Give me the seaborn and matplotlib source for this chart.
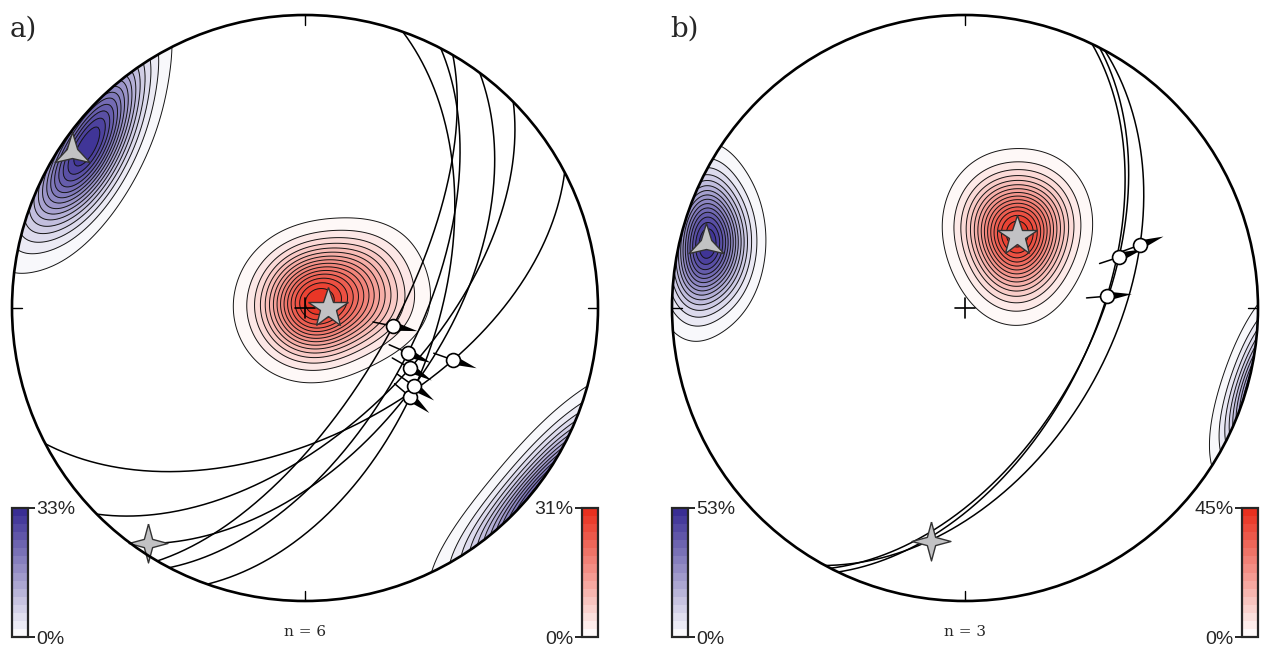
import numpy as np
import pandas as pd
import matplotlib
matplotlib.use("Agg")
import matplotlib.pyplot as plt
import seaborn as sns
from matplotlib.colors import LinearSegmentedColormap, ListedColormap, BoundaryNorm
from matplotlib.patches import Circle
from matplotlib.cm import ScalarMappable

# ---------------- data: panel a (n = 6) ----------------
a_strike = [19.5, 27.6, 30.3, 36.6, 45.3, 62.4]
a_dip = [53.0, 58.6, 66.1, 52.3, 57.0, 54.3]
a_rake = [102.8, 87.9, 82.2, 89.4, 81.4, 61.4]
a_p_trend = [0.0, 105.9, 6.1, 147.0, 54.2, 90.0]
a_p_plunge = [87.8, 88.0, 81.0, 82.6, 72.9, 72.5]
a_t_trend = [298, 301, 304, 307, 311, 317]
a_t_plunge = [3, 8, 16, 11, 5, 2]
a_sigma_trend = [90.0, 213.8, 303.8]     # sigma1, sigma2, sigma3
a_sigma_plunge = [83.6, 4.0, 4.8]
a_max_t, a_max_p = 33, 31

# ---------------- data: panel b (n = 3) ----------------
b_strike = [25.7, 27.35, 28.5]
b_dip = [53.9, 54.0, 48.2]
b_rake = [70.9, 59.0, 53.2]
b_p_trend = [22.15, 39.1, 46.0]
b_p_plunge = [64.1, 58.95, 69.9]
b_t_trend = [279, 284, 289]
b_t_plunge = [8, 16, 6]
b_sigma_trend = [35.8, 188.3, 284.1]
b_sigma_plunge = [65.2, 20.7, 9.8]
b_max_t, b_max_p = 53, 45

# ---------------- style ----------------
sns.set_style("white")
plt.rcParams['font.family'] = ['Liberation Sans', 'DejaVu Sans']
W, H = 1265, 646
R_PX = 293
BLUE = LinearSegmentedColormap.from_list("bl", ["#ffffff", "#3a2e94"])
RED = LinearSegmentedColormap.from_list("rd", ["#ffffff", "#e8301f"])
LEVELS = np.linspace(0.04, 1.0, 16)


def proj(trend, plunge, antipode=False):
    t = np.radians(np.asarray(trend, float))
    p = np.radians(np.asarray(plunge, float))
    e, n, d = np.cos(p) * np.sin(t), np.cos(p) * np.cos(t), np.sin(p)
    if antipode:
        e, n, d = -e, -n, -d
    k = 1.0 / np.sqrt(1.0 + d)
    return e * k, n * k


def plane_line(strike, dip, rake):
    s, d = np.radians(strike), np.radians(dip)
    lam = np.radians(np.asarray(rake, float))
    S = np.array([np.sin(s), np.cos(s), 0.0])
    D = np.array([np.cos(d) * np.cos(s), -np.cos(d) * np.sin(s), np.sin(d)])
    v = np.outer(np.cos(lam), S) + np.outer(np.sin(lam), D)
    k = 1.0 / np.sqrt(1.0 + v[:, 2])
    return v[:, 0] * k, v[:, 1] * k


def star_verts(n, inner, rot=90):
    i = np.arange(2 * n + 1)
    ang = np.radians(rot) + i * np.pi / n
    r = np.where(i % 2 == 0, 1.0, inner)
    return np.column_stack([r * np.cos(ang), r * np.sin(ang)])


def density(ax, x, y, cmap, bw):
    n0 = len(ax.collections)
    sns.kdeplot(x=x, y=y, ax=ax, fill=True, levels=LEVELS, cmap=cmap,
                bw_adjust=bw, gridsize=220, cut=5, zorder=1)
    sns.kdeplot(x=x, y=y, ax=ax, fill=False, levels=LEVELS, color="#151515",
                linewidths=0.7, bw_adjust=bw, gridsize=220, cut=5, zorder=2)
    for c in ax.collections[n0:]:
        c.set_clip_path(Circle((0, 0), 1, transform=ax.transData))


def panel(ax, strike, dip, rake, pt, pp, tt, tp, st, sp, bw_p, bw_t):
    # densities
    px, py = proj(pt, pp)
    density(ax, px, py, RED, bw_p)
    tx, ty = proj(tt, tp)
    density(ax, tx, ty, BLUE, bw_t)
    ax_, ay_ = proj(tt, tp, antipode=True)
    density(ax, ax_, ay_, BLUE, bw_t)

    # great circles
    rows = []
    for i, (s, d) in enumerate(zip(strike, dip)):
        x, y = plane_line(s, d, np.linspace(0, 180, 361))
        rows.append(pd.DataFrame({"x": x, "y": y, "plane": i}))
    df = pd.concat(rows, ignore_index=True)
    sns.lineplot(data=df, x="x", y="y", units="plane", estimator=None, sort=False,
                 color="black", lw=1.1, ax=ax, zorder=3, legend=False)

    # striae with slip arrows
    for s, d, r in zip(strike, dip, rake):
        x, y = plane_line(s, d, [r])
        x, y = x[0], y[0]
        u = np.array([x, y]) / np.hypot(x, y)
        w = np.array([-u[1], u[0]])
        tip = np.array([x, y]) + 0.085 * u
        b1 = np.array([x, y]) + 0.016 * w
        b2 = np.array([x, y]) - 0.016 * w
        ax.fill([b1[0], tip[0], b2[0]], [b1[1], tip[1], b2[1]], color="black", zorder=4, lw=0)
        tail = np.array([x, y]) - 0.07 * u
        ax.plot([tail[0], x], [tail[1], y], color="black", lw=1.1, zorder=4)
        ax.plot([x], [y], "o", ms=10, mfc="white", mec="black", mew=1.2, zorder=5)

    # principal axes
    sx, sy = proj(st, sp)
    ax.plot(sx[0], sy[0], marker="*", ms=30, mfc="#c2c2c4", mec="#333333", mew=1.0,
            ls="none", zorder=7)
    ax.plot(sx[1], sy[1], marker=star_verts(4, 0.3), ms=28, mfc="#c2c2c4", mec="#333333",
            mew=1.0, ls="none", zorder=7)
    ax.plot(sx[2], sy[2], marker=star_verts(3, 0.3), ms=29, mfc="#c2c2c4", mec="#333333",
            mew=1.0, ls="none", zorder=7)

    # centre cross, ticks, primitive
    c = 0.034
    ax.plot([-c, c], [0, 0], color="black", lw=1.2, zorder=6)
    ax.plot([0, 0], [-c, c], color="black", lw=1.2, zorder=6)
    for ang in [0, 90, 180, 270]:
        a = np.radians(ang)
        ax.plot([np.sin(a), (1 - c) * np.sin(a)], [np.cos(a), (1 - c) * np.cos(a)],
                color="black", lw=1.0, zorder=8)
    ax.add_patch(Circle((0, 0), 1, fill=False, lw=1.9, ec="black", zorder=9, clip_on=False))
    ax.set_xlim(-1, 1)
    ax.set_ylim(-1, 1)
    ax.set_axis_off()


def cbar(fig, x0, vmax, cmap, side):
    cax = fig.add_axes([x0 / W, 9 / H, 16 / W, 129 / H])
    bounds = np.linspace(0, vmax, 17)
    cm = ListedColormap(cmap(np.linspace(0.03, 1.0, 16)))
    norm = BoundaryNorm(bounds, cm.N)
    cb = fig.colorbar(ScalarMappable(norm=norm, cmap=cm), cax=cax, ticks=[0, vmax])
    cb.ax.set_yticklabels(["0%", f"{vmax}%"])
    cb.outline.set_linewidth(1.6)
    cax.minorticks_off()
    cax.yaxis.set_ticks_position(side)
    cax.tick_params(which="major", length=5, width=1.4, labelsize=14, pad=1)
    cax.tick_params(which="minor", length=0)
    return cb


fig = plt.figure(figsize=(W / 100, H / 100), dpi=100)
ax_a = fig.add_axes([(305 - R_PX) / W, (H - 308 - R_PX) / H, 2 * R_PX / W, 2 * R_PX / H])
ax_b = fig.add_axes([(965 - R_PX) / W, (H - 308 - R_PX) / H, 2 * R_PX / W, 2 * R_PX / H])

panel(ax_a, a_strike, a_dip, a_rake, a_p_trend, a_p_plunge, a_t_trend, a_t_plunge,
      a_sigma_trend, a_sigma_plunge, bw_p=1.6, bw_t=2.0)
panel(ax_b, b_strike, b_dip, b_rake, b_p_trend, b_p_plunge, b_t_trend, b_t_plunge,
      b_sigma_trend, b_sigma_plunge, bw_p=1.8, bw_t=1.7)

cbar(fig, 12, a_max_t, BLUE, "right")
cbar(fig, 582, a_max_p, RED, "left")
cbar(fig, 672, b_max_t, BLUE, "right")
cbar(fig, 1242, b_max_p, RED, "left")

fig.text(10 / W, 1 - 29 / H, "a)", fontsize=20, family="DejaVu Serif", va="center", ha="left")
fig.text(670 / W, 1 - 29 / H, "b)", fontsize=20, family="DejaVu Serif", va="center", ha="left")
fig.text(305 / W, 1 - 632 / H, "n = 6", fontsize=11, family="DejaVu Serif", va="center", ha="center")
fig.text(965 / W, 1 - 632 / H, "n = 3", fontsize=11, family="DejaVu Serif", va="center", ha="center")

fig.savefig("out.png", dpi=100)
